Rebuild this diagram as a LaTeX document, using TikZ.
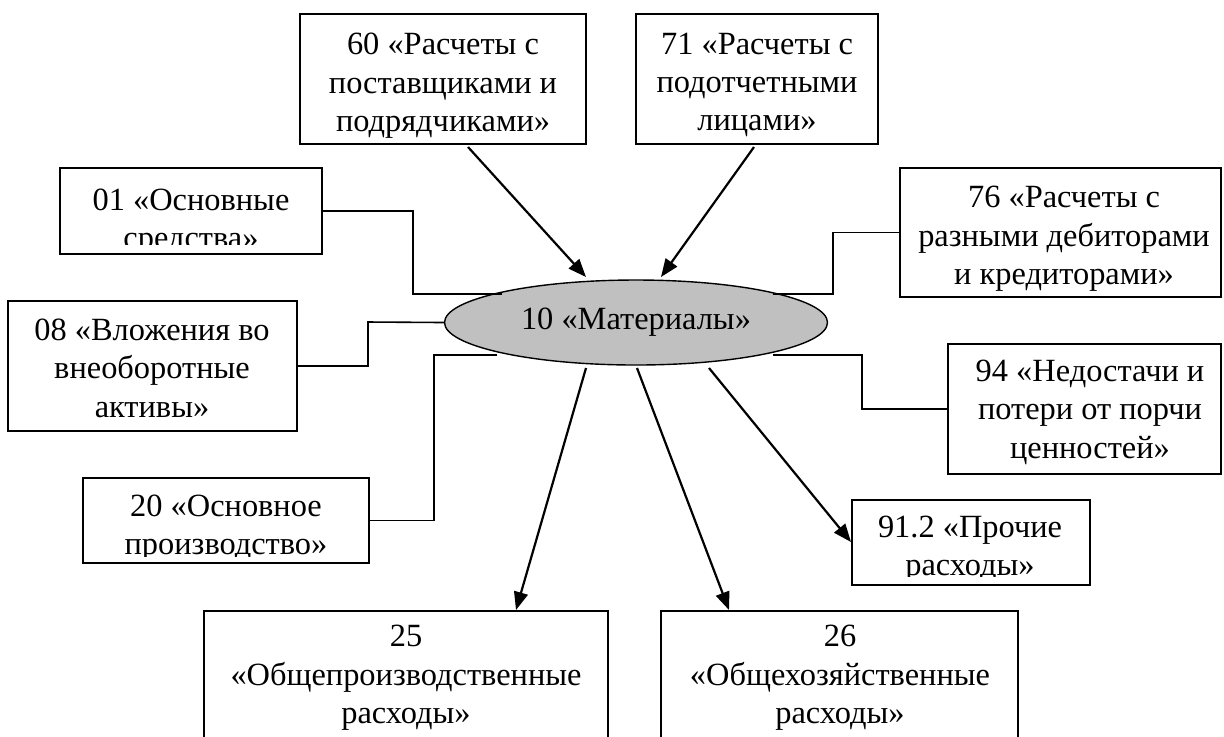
\documentclass[tikz,border=0pt]{standalone}
\usepackage{fontspec}
\setmainfont{Liberation Serif}
\usetikzlibrary{arrows.meta,shapes.geometric,fit}
\definecolor{ellgray}{RGB}{192,192,192}
\begin{document}
\begin{tikzpicture}[x=0.5pt,y=-0.5pt,
  box/.style={draw=black,line width=0.7pt,inner sep=0pt},
  txt/.style={align=center,inner sep=0pt,font=\fontsize{16.2}{19.2}\selectfont},
  conn/.style={draw=black,line width=0.8pt},
  arr/.style={draw=black,line width=1.1pt,-{Triangle[length=9pt,width=7pt]}}]
\useasboundingbox (0,0) rectangle (1224,736);
% boxes
\node[box,fit={(300,14) (586,144)}] (b60) {};
\node[box,fit={(636,14) (878,144)}] (b71) {};
\node[box,fit={(60,168) (322,254)}] (b01) {};
\node[box,fit={(8,301) (297,431)}] (b08) {};
\node[box,fit={(83,478) (369,563)}] (b20) {};
\node[box,fit={(900,168) (1221,297)}] (b76) {};
\node[box,fit={(948,344) (1221,474)}] (b94) {};
\node[box,fit={(852,500) (1090,585)}] (b912) {};
\node[box,fit={(204,611) (608,780)}] (b25) {};
\node[box,fit={(661,611) (1018,780)}] (b26) {};
% centre
\node[ellipse,draw=black,line width=0.7pt,fill=ellgray,minimum width=191.5pt,minimum height=42.5pt,inner sep=0pt,font=\fontsize{16.2}{19.2}\selectfont] (m) at (636,322.5) {\raisebox{-1pt}{10 «Материалы»}};
% texts
\node[txt] (t60) at (443,86) {60 «Расчеты с\\поставщиками и\\подрядчиками»};
\node[txt] (t71) at (757,85) {71 «Расчеты с\\подотчетными\\лицами»};
\begin{scope}
\clip (60,168) rectangle (322,244);
\node[txt] (t01) at (191,222) {01 «Основные\\средства»};
\end{scope}
\node[txt] (t08) at (152,368) {08 «Вложения во\\внеоборотные\\активы»};
\begin{scope}
\clip (83,478) rectangle (369,556);
\node[txt] (t20) at (226,528) {20 «Основное\\производство»};
\end{scope}
\node[txt] (t76) at (1064,239) {76 «Расчеты с\\разными дебиторами\\и кредиторами»};
\node[txt] (t94) at (1090,412) {94 «Недостачи и\\потери от порчи\\ценностей»};
\begin{scope}
\clip (852,500) rectangle (1090,576);
\node[txt] (t912) at (970,549) {91.2 «Прочие\\расходы»};
\end{scope}
\node[txt] (t25) at (406,678) {25\\«Общепроизводственные\\расходы»};
\node[txt] (t26) at (840,678) {26\\«Общехозяйственные\\расходы»};
% coordinates for connectors
\coordinate (a60s) at (468,147);
\coordinate (a60e) at (586,277);
\coordinate (a71s) at (754,147);
\coordinate (a71e) at (661,277);
\coordinate (a25s) at (586,368);
\coordinate (a25e) at (516,610);
\coordinate (a26s) at (637,368);
\coordinate (a26e) at (729,610);
\coordinate (a91s) at (709,368);
\coordinate (a91e) at (851,542);
\coordinate (c01) at (413,294);
\coordinate (c01e) at (502,294);
\coordinate (c08) at (368,322);
\coordinate (c20s) at (497,355);
\coordinate (c20) at (434,355);
\coordinate (c76s) at (773,294);
\coordinate (c76) at (833,294);
\coordinate (c94s) at (773,355);
\coordinate (c94) at (862,355);
% connectors
\draw[conn] (b01.east) -| (c01) -- (c01e);
\draw[conn] (b08.east) -| (c08) -- (m.west);
\draw[conn] (c20s) -- (c20) |- (b20.east);
\draw[conn] (c76s) -- (c76) |- (b76.west);
\draw[conn] (c94s) -- (c94) |- (b94.west);
\draw[arr] (a60s) -- (a60e);
\draw[arr] (a71s) -- (a71e);
\draw[arr] (a25s) -- (a25e);
\draw[arr] (a26s) -- (a26e);
\draw[arr] (a91s) -- (a91e);
\end{tikzpicture}
\end{document}
